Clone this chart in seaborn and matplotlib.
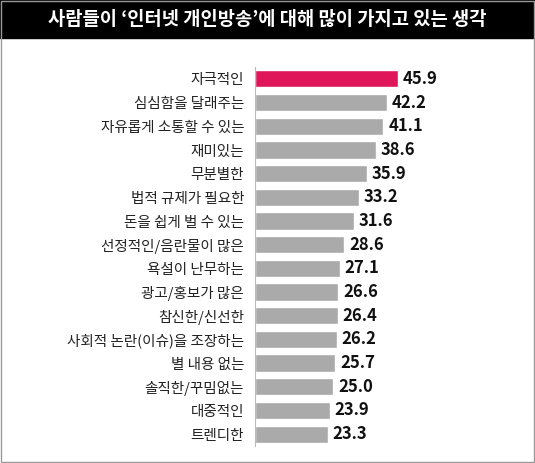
import matplotlib
matplotlib.use("Agg")
import matplotlib.pyplot as plt
import seaborn as sns
import pandas as pd

categories = ["자극적인", "심심함을 달래주는", "자유롭게 소통할 수 있는", "재미있는", "무분별한",
              "법적 규제가 필요한", "돈을 쉽게 벌 수 있는", "선정적인/음란물이 많은", "욕설이 난무하는",
              "광고/홍보가 많은", "참신한/신선한", "사회적 논란(이슈)을 조장하는", "별 내용 없는",
              "솔직한/꾸밈없는", "대중적인", "트렌디한"]
values = [45.9, 42.2, 41.1, 38.6, 35.9, 33.2, 31.6, 28.6, 27.1, 26.6, 26.4, 26.2, 25.7, 25.0, 23.9, 23.3]

sns.set_style("white")
plt.rcParams['font.family'] = ['Noto Sans CJK KR', 'DejaVu Sans']

df = pd.DataFrame({"cat": categories, "val": values})
colors = ["#e0165a"] + ["#aaaaaa"] * (len(values) - 1)

fig = plt.figure(figsize=(5.35, 4.63), dpi=100)
ax = fig.add_axes([0.477, 0.037, 0.35, 0.818])
sns.barplot(data=df, x="val", y="cat", hue="cat", palette=colors, legend=False,
            width=0.72, ax=ax, saturation=1)
ax.set_xlim(0, 60)
ax.set_ylim(len(values) - 0.5, -0.5)
ax.set_xlabel("")
ax.set_ylabel("")
ax.set_xticks([])
for s in ["top", "right", "bottom"]:
    ax.spines[s].set_visible(False)
ax.spines["left"].set_color("#bbbbbb")
ax.spines["left"].set_linewidth(0.8)
ax.tick_params(axis="y", length=0, pad=8, labelsize=10.5, labelcolor="#222222")
for i, v in enumerate(values):
    ax.text(v + 1.5, i, f"{v:.1f}", va="center", ha="left", fontsize=12,
            fontweight="bold", color="#111111")

fig.patches.append(plt.Rectangle((0, 1 - 38 / 463), 1, 38 / 463, transform=fig.transFigure,
                                 color="black", zorder=0))
fig.text(0.5, 1 - 19 / 463, "사람들이 ‘인터넷 개인방송’에 대해 많이 가지고 있는 생각",
         ha="center", va="center", color="white", fontsize=13.5, fontweight="bold")
fig.patches.append(plt.Rectangle((0.002, 0.002), 0.996, 0.996, transform=fig.transFigure,
                                 fill=False, edgecolor="#999999", lw=1))
fig.savefig("out.png", dpi=100)
